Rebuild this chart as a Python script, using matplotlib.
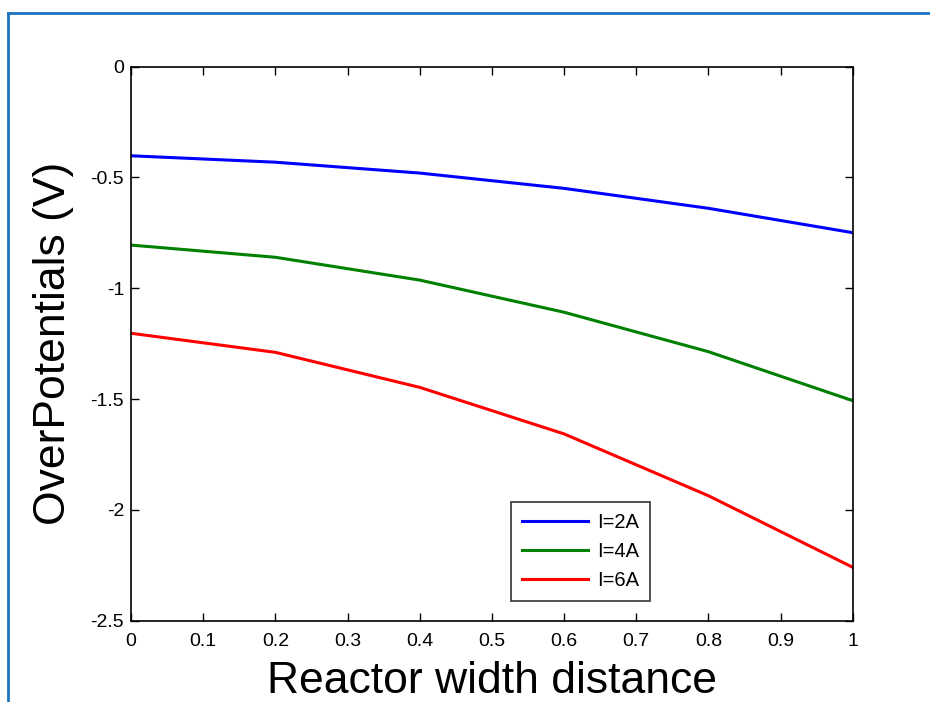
import matplotlib
matplotlib.use("Agg")
import matplotlib.pyplot as plt
from matplotlib.lines import Line2D

# Overpotential profiles across the reactor width
distance = [0.0, 0.2, 0.4, 0.6, 0.8, 1.0]
eta_2A = [-0.402, -0.431, -0.480, -0.549, -0.639, -0.749]
eta_4A = [-0.805, -0.860, -0.963, -1.108, -1.286, -1.507]
eta_6A = [-1.203, -1.289, -1.447, -1.657, -1.936, -2.259]
labels = ["I=2A", "I=4A", "I=6A"]
colors = ["#0000ff", "#008000", "#ff0000"]

xticks = [0, 0.1, 0.2, 0.3, 0.4, 0.5, 0.6, 0.7, 0.8, 0.9, 1]
xticklabels = ["0", "0.1", "0.2", "0.3", "0.4", "0.5", "0.6", "0.7", "0.8", "0.9", "1"]
yticks = [0, -0.5, -1, -1.5, -2, -2.5]
yticklabels = ["0", "-0.5", "-1", "-1.5", "-2", "-2.5"]

plt.rcParams["font.family"] = ["Liberation Sans", "DejaVu Sans"]

fig = plt.figure(figsize=(9.3, 7.02), dpi=100)
ax = fig.add_axes([0.1409, 0.1158, 0.776, 0.7892])

for ys, lab, col in zip([eta_2A, eta_4A, eta_6A], labels, colors):
    ax.plot(distance, ys, color=col, linewidth=2.2, label=lab)

ax.set_xlim(0, 1)
ax.set_ylim(-2.5, 0)
ax.set_xticks(xticks)
ax.set_xticklabels(xticklabels)
ax.set_yticks(yticks)
ax.set_yticklabels(yticklabels)
ax.tick_params(direction="in", length=6, width=1, labelsize=14,
               top=True, right=True, pad=5)
ax.tick_params(axis="x", pad=9)
for sp in ax.spines.values():
    sp.set_linewidth(1.2)

ax.set_xlabel("Reactor width distance", fontsize=32, labelpad=8)
ax.set_ylabel("OverPotentials (V)", fontsize=32, labelpad=12)

leg = ax.legend(loc="upper left", bbox_to_anchor=(0.526, 0.2148),
                fontsize=14.5, frameon=True, fancybox=False,
                handlelength=3.3, handletextpad=0.45, borderpad=0.55,
                labelspacing=0.5, borderaxespad=0)
leg.get_frame().set_edgecolor("black")
leg.get_frame().set_linewidth(1.2)

# window-style border at top and left
W, H = 930, 702
fig.add_artist(Line2D([8.3 / W, 1.0], [1 - 12.7 / H, 1 - 12.7 / H],
                      transform=fig.transFigure, color="#1b74c0", linewidth=2))
fig.add_artist(Line2D([8.3 / W, 8.3 / W], [0.0, 1 - 12.7 / H],
                      transform=fig.transFigure, color="#1b74c0", linewidth=2))

fig.savefig("out.png", dpi=100)
